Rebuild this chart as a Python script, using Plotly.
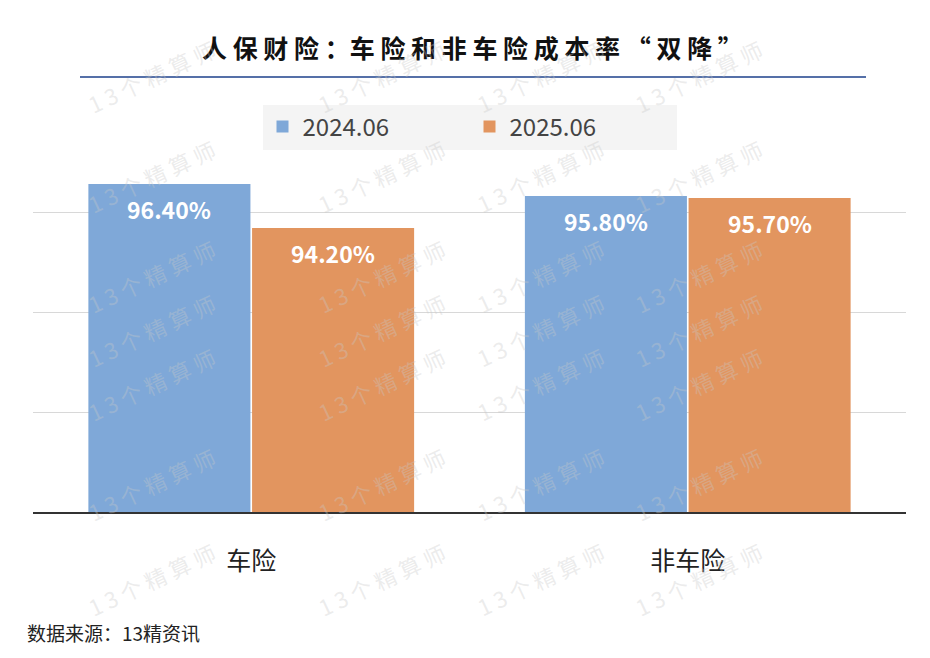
import plotly.graph_objects as go

categories = ["车险", "非车险"]
series_names = ["2024.06", "2025.06"]
values_2024 = [96.40, 95.80]
values_2025 = [94.20, 95.70]
colors = ["#7FA8D8", "#E2955F"]

W, H = 873, 400  # plot area size in px


def py(pix):
    return (512 - pix) / H


fig = go.Figure()
for i, (name, vals, col) in enumerate(zip(series_names, [values_2024, values_2025], colors)):
    fig.add_trace(go.Bar(
        x=categories, y=vals, name=name, marker_color=col,
        marker_line_width=0,
    ))
    for cat, v in zip(categories, vals):
        fig.add_annotation(x=cat, y=v, text=f"<b>{v:.2f}%</b>", showarrow=False,
                           xshift=(-82 if i == 0 else 82), yanchor="top", yshift=-6,
                           font=dict(color="white", size=23, family="Noto Sans CJK SC"))

fig.update_layout(
    width=930, height=658,
    paper_bgcolor="white", plot_bgcolor="white",
    margin=dict(l=25, r=32, t=104, b=154, autoexpand=False),
    barmode="group", bargap=0.25, bargroupgap=0.01,
    font=dict(family="Noto Sans CJK SC", color="#333"),
    showlegend=True,
    legend=dict(orientation="h", x=0.5, xanchor="center", y=py(127), yanchor="middle",
                bgcolor="#F4F4F4", font=dict(size=24, color="#444"),
                entrywidth=162, borderwidth=0),
    xaxis=dict(showline=True, linecolor="#333", linewidth=2,
               tickfont=dict(size=25, color="#222"), ticks="", ticklabelstandoff=26),
    yaxis=dict(range=[80, 100], dtick=5, showticklabels=False,
               gridcolor="#D8D8D8", gridwidth=1, zeroline=False),
)

fig.add_annotation(text="<b>人 保 财 险 ：车 险 和 非 车 险 成 本 率 “ 双 降 ”</b>",
                   xref="paper", yref="paper", x=(472 - 33) / W, y=py(47),
                   showarrow=False, font=dict(size=25, color="#111", family="Noto Sans CJK SC"),
                   yanchor="middle")
fig.add_shape(type="line", xref="paper", yref="paper", x0=(80 - 33) / W, x1=(866 - 33) / W,
              y0=py(77), y1=py(77), line=dict(color="#5570A8", width=2))
fig.add_annotation(text="数据来源：13精资讯", xref="paper", yref="paper",
                   x=(25 - 33) / W, xanchor="left", y=py(632), yanchor="middle",
                   showarrow=False, font=dict(size=19, color="#222"))

# watermark
for wx in [80, 310, 540, 770]:
    for wy in [30, 130, 230, 330, 430, 530, 625]:
        fig.add_annotation(text="1 3 个 精 算 师", xref="paper", yref="paper",
                           x=(wx - 33) / W, y=py(wy), textangle=-25,
                           showarrow=False, font=dict(size=22, color="rgba(200,200,200,0.35)"))

fig.write_html("out.html")
